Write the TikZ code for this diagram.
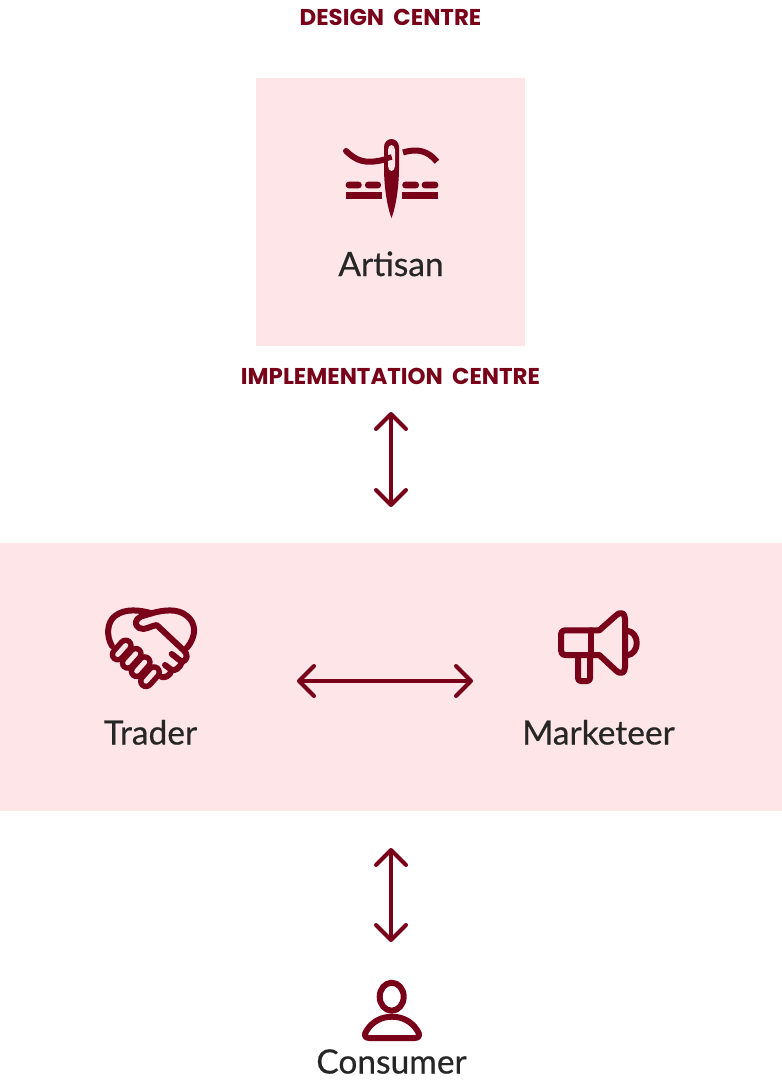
\documentclass[tikz,border=0pt]{standalone}
\usepackage{fontspec}
\setmainfont{Lato}[RawFeature={embolden=0.5}]
\newfontfamily\headfont{Poppins}[WordSpace=1.9]
\usetikzlibrary{arrows.meta, positioning}
\definecolor{wine}{rgb}{0.47, 0.0, 0.10}
\definecolor{lightpink}{rgb}{0.992, 0.898, 0.91}
\definecolor{inktext}{rgb}{0.15, 0.15, 0.15}

\begin{document}
\begin{tikzpicture}[
        x=1pt, y=-1pt,
        panel/.style={rectangle, fill=lightpink, inner sep=0pt},
        heading/.style={font=\headfont\fontsize{22.9}{26}\selectfont\bfseries, text=wine, inner sep=0pt},
        role/.style={font=\fontsize{33.5}{36}\selectfont, text=inktext, inner sep=0pt, anchor=base},
        arrow/.style={wine, line width=4pt, line cap=round, line join=round, {Straight Barb[round,length=15pt,width=30pt]}-{Straight Barb[round,length=15pt,width=30pt]}},
        icon/.style={draw=wine, line width=6pt, line cap=round, line join=round},
        stitch/.style={fill=wine, rounded corners=3pt}
    ]
        \useasboundingbox (0,0) rectangle (782,1080);

        % panels
        \node [panel, minimum width=269pt, minimum height=268pt] (artisanbox) at (390.5,212) {};
        \node [panel, minimum width=782pt, minimum height=268pt] (band) at (391,677) {};

        % headings and roles
        \node [heading] (design) at (390.5,17) {DESIGN CENTRE};
        \node [heading] (implementation) at (390.5,376) {IMPLEMENTATION CENTRE};
        \node [role] (artisan) at (391,276) {Artisan};
        \node [role] (trader) at (150.5,744.5) {Trader};
        \node [role] (marketeer) at (598.5,744.5) {Marketeer};
        \node [role] (consumer) at (391.5,1073.5) {Consumer};

        % connector ends
        \coordinate (upperA) at (391,412);
        \coordinate (upperB) at (391,507);
        \coordinate (middleA) at (297,681);
        \coordinate (middleB) at (473,681);
        \coordinate (lowerA) at (391,848);
        \coordinate (lowerB) at (391,942);

        \draw [arrow] (upperA) -- (upperB);
        \draw [arrow] (middleA) -- (middleB);
        \draw [arrow] (lowerA) -- (lowerB);

        % needle
        \fill [stitch] (345.7,181.7) rectangle (361.7,188.3);
        \fill [stitch] (365,181.7) rectangle (381,188.3);
        \fill [stitch] (402.3,181.7) rectangle (419,188.3);
        \fill [stitch] (421.7,181.7) rectangle (438.3,188.3);
        \fill [wine] (345.7,192.3) rectangle (381.7,199.3);
        \fill [wine] (402.3,192.3) rectangle (438.3,199.3);
        \draw [icon] (346,151) .. controls (356,160) and (364,166) .. (390,158);
        \draw [icon, line cap=butt] (403,152.5) .. controls (418,148) and (428,151) .. (437,161.7);
        \fill [wine] (384,147) arc (180:360:7.5 and 8) -- (399,170) .. controls (398.5,195) and (394,212) .. (391.5,218)
            .. controls (389,212) and (384.5,195) .. (384,170) -- cycle;
        \fill [lightpink] (388,150) arc (180:360:3.5 and 5) -- (395,166) arc (0:180:3.5 and 5) -- cycle;
        \draw [wine, line width=5.5pt] (386,158.5) -- (391.7,157);

        % handshake
        \foreach \cx/\cy in {121.7/650, 131.7/658.3, 140.7/666.7, 150/676.7} {
            \draw [wine, line width=16pt, line cap=round] (\cx-4,\cy+4.5) -- (\cx+4,\cy-4.5);
        }
        \foreach \cx/\cy in {121.7/650, 131.7/658.3, 140.7/666.7, 150/676.7} {
            \draw [lightpink, line width=5pt, line cap=round] (\cx-4,\cy+4.5) -- (\cx+4,\cy-4.5);
        }
        \draw [icon] (112,646) .. controls (106,636) and (107,622) .. (115,616)
            .. controls (125,608) and (140,610) .. (151.7,613.3)
            .. controls (163,610) and (178,608) .. (187,616)
            .. controls (196,623) and (197,636) .. (186.7,648);
        \draw [icon] (151.7,613.3) -- (141,616.5) .. controls (135,619) and (134,625) .. (139,628)
            .. controls (145,631) and (150,626) .. (156.7,625) -- (183.3,650)
            .. controls (189,655) and (187,660) .. (182,662) -- (171.7,654);
        \draw [icon] (182,662) .. controls (180,668) and (175,671) .. (171.7,670) -- (165,665);
        \draw [icon] (171.7,670) .. controls (170,676) and (165,678) .. (161.7,677);

        % megaphone
        \draw [icon] (590.7,630.3) -- (566,630.3) .. controls (562,630.3) and (561,632) .. (561,636) -- (561,650)
            .. controls (561,653) and (562,655) .. (566,655) -- (599.3,655)
            -- (616,670.5) .. controls (621,675) and (625,673) .. (625,667) -- (625,619)
            .. controls (625,613) and (621,611) .. (616,615.5) -- (599.3,630.3) -- cycle;
        \draw [icon] (590.7,630.3) -- (590.7,655);
        \draw [icon] (578,655) -- (578,678) .. controls (578,680) and (579,681) .. (581,681) -- (587,681)
            .. controls (589,681) and (590,680) .. (590,678) -- (590,655);
        \draw [icon, line cap=butt] (627,630.7) .. controls (640,632) and (640,654) .. (627,655.3);

        % consumer
        \draw [icon] (391.7,996.7) ellipse (12 and 14);
        \draw [icon] (369,1038) .. controls (364,1038) and (364,1034) .. (367,1030)
            .. controls (373,1021) and (382,1016.7) .. (392,1016.7)
            .. controls (402,1016.7) and (411,1021) .. (417,1030)
            .. controls (420,1034) and (420,1038) .. (415,1038) -- cycle;
    \end{tikzpicture}
\end{document}
